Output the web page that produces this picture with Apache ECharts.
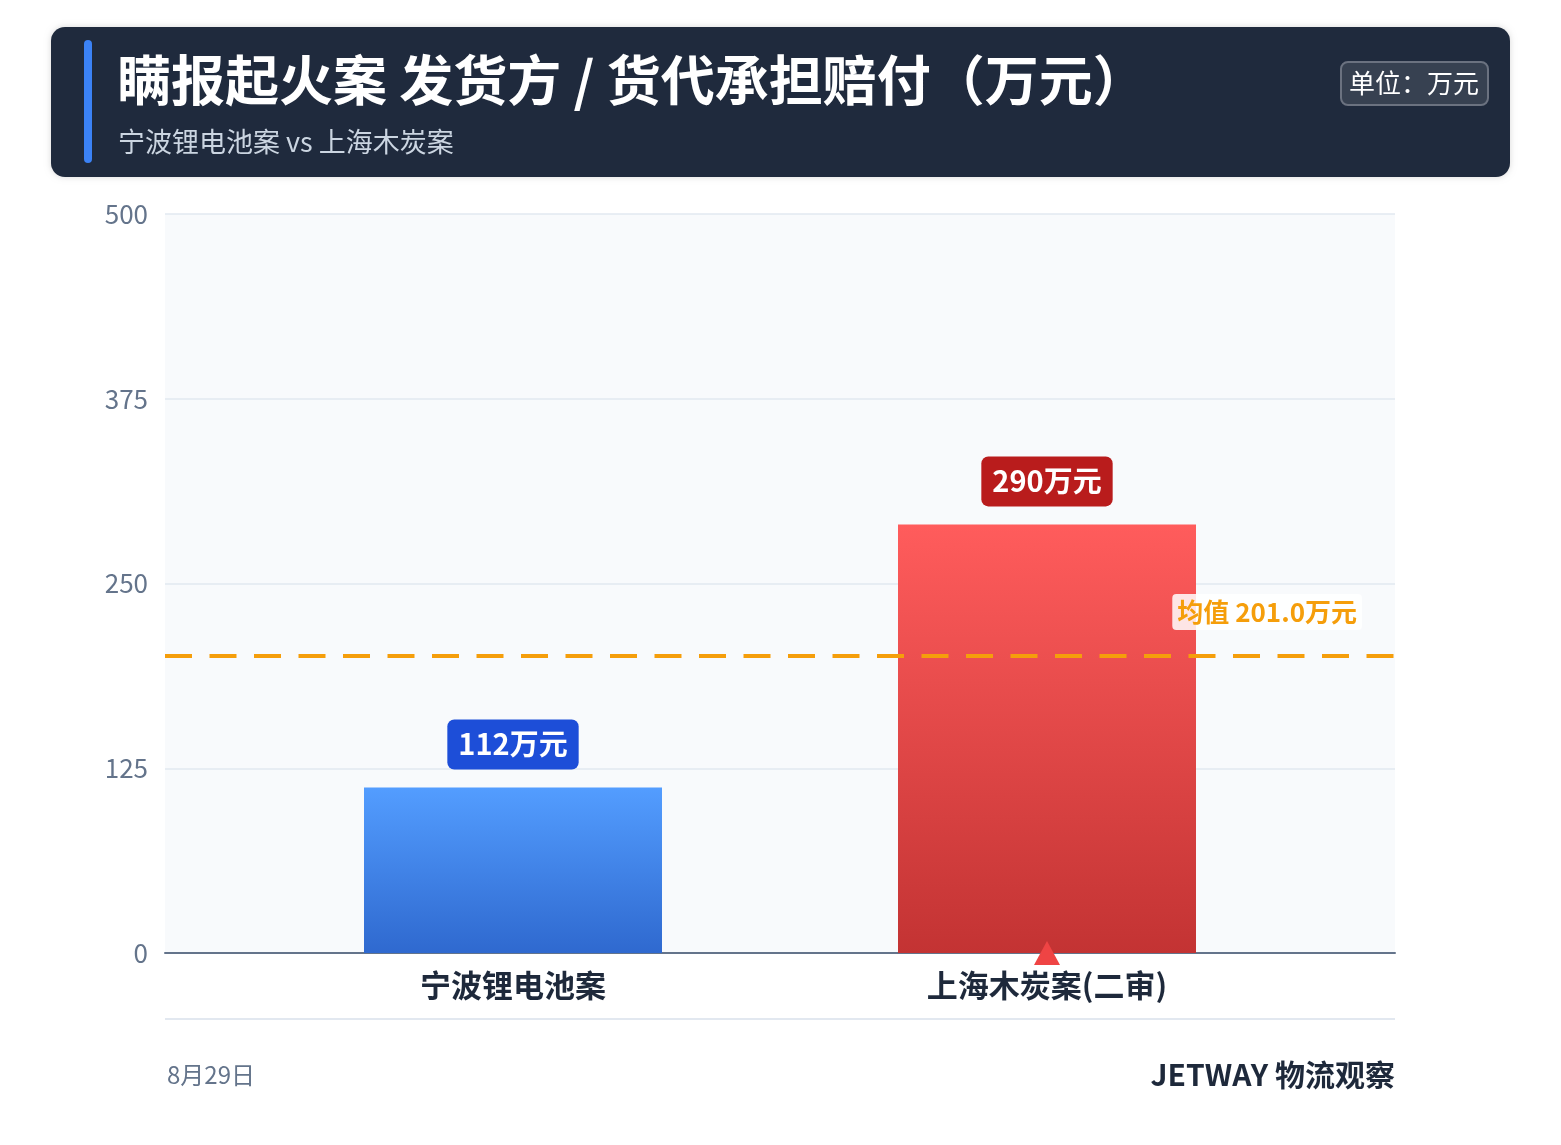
<!DOCTYPE html>
<html><head><meta charset="utf-8">
<script src="https://cdn.jsdelivr.net/npm/echarts@6/dist/echarts.min.js"></script>
<style>html,body{margin:0;padding:0;background:#fff}#c{width:1561px;height:1145px}</style>
</head><body><div id="c"></div>
<script>
const categories = ['宁波锂电池案', '上海木炭案(二审)'];
const values = [112, 290];
const meanValue = 201.0;
const yTicks = { min: 0, max: 500, interval: 125 };
const titleText = '瞒报起火案 发货方 / 货代承担赔付（万元）';
const subtitleText = '宁波锂电池案 vs 上海木炭案';
const unitText = '单位：万元';
const dateText = '8月29日';
const brandText = 'JETWAY 物流观察';

const FONT = '"Noto Sans CJK SC", "Noto Sans", sans-serif';
const chart = echarts.init(document.getElementById('c'));
const barColors = [
  { top: '#539dff', bottom: '#2f69cf', badge: '#1d4ed8' },
  { top: '#ff5c5c', bottom: '#c33333', badge: '#b91c1c' }
];
chart.setOption({
  animation: false,
  textStyle: { fontFamily: FONT },
  grid: [
    { left: 165, right: 166, top: 214, bottom: 192, show: true, backgroundColor: '#f8fafc', borderWidth: 0 },
    { left: 246, right: 247, top: 214, bottom: 192 }
  ],
  xAxis: [
    {
      gridIndex: 0, type: 'category', data: categories,
      axisLine: { lineStyle: { color: '#64748b', width: 2 } },
      axisTick: { show: false }, axisLabel: { show: false }
    },
    {
      gridIndex: 1, type: 'category', data: categories,
      axisLine: { show: false }, axisTick: { show: false },
      axisLabel: { fontSize: 31, fontWeight: 'bold', color: '#1e293b', margin: 17, fontFamily: FONT }
    }
  ],
  yAxis: [
    {
      gridIndex: 0, type: 'value', min: yTicks.min, max: yTicks.max, interval: yTicks.interval,
      axisLine: { show: false }, axisTick: { show: false },
      axisLabel: { fontSize: 26, color: '#64748b', margin: 17, fontFamily: FONT },
      splitLine: { lineStyle: { color: '#e2e8f0', width: 1.5 } }
    },
    {
      gridIndex: 1, type: 'value', min: yTicks.min, max: yTicks.max, interval: yTicks.interval,
      show: false
    }
  ],
  graphic: [
    { type: 'rect', shape: { x: 51, y: 27, width: 1459, height: 150, r: 14 }, style: { fill: '#1f2a3d', shadowBlur: 6, shadowColor: 'rgba(0,0,0,0.15)' }, z: 10 },
    { type: 'rect', shape: { x: 84, y: 40, width: 8, height: 123, r: 4 }, style: { fill: '#3b82f6' }, z: 11 },
    { type: 'text', x: 117, y: 80, style: { text: titleText, fill: '#ffffff', font: 'bold 54px ' + FONT, verticalAlign: 'middle' }, z: 11 },
    { type: 'text', x: 118, y: 142, style: { text: subtitleText, fill: '#cbd5e1', font: '27px ' + FONT, verticalAlign: 'middle' }, z: 11 },
    { type: 'rect', shape: { x: 1341, y: 62, width: 147, height: 43, r: 7 }, style: { fill: '#374151', stroke: '#6b7280', lineWidth: 2 }, z: 11 },
    { type: 'text', x: 1414, y: 83, style: { text: unitText, fill: '#ffffff', font: '26px ' + FONT, align: 'center', verticalAlign: 'middle' }, z: 12 },
    { type: 'line', shape: { x1: 165, y1: 1019, x2: 1395, y2: 1019 }, style: { stroke: '#e2e8f0', lineWidth: 2 } },
    { type: 'text', x: 167, y: 1075, style: { text: dateText, fill: '#64748b', font: '24px ' + FONT, verticalAlign: 'middle' } },
    { type: 'text', x: 1395, y: 1075, style: { text: brandText, fill: '#1e293b', font: 'bold 30px ' + FONT, align: 'right', verticalAlign: 'middle' } }
  ],
  series: [
    {
      type: 'line', xAxisIndex: 0, yAxisIndex: 0, data: [], silent: true,
      markLine: {
        silent: true, symbol: 'none',
        data: [{ yAxis: meanValue }],
        lineStyle: { color: '#f59e0b', type: [27, 17.5], width: 4 },
        label: {
          position: 'insideEndTop', formatter: '均值 ' + meanValue.toFixed(1) + '万元',
          color: '#f59e0b', fontSize: 26, fontWeight: 'bold', fontFamily: FONT,
          backgroundColor: 'rgba(255,255,255,0.85)', padding: [5, 5], borderRadius: 4,
          distance: [33, 26]
        }
      }
    },
    {
      type: 'bar', xAxisIndex: 1, yAxisIndex: 1,
      barWidth: 298, z: 3,
      data: values.map((v, i) => ({
        value: v,
        itemStyle: { color: new echarts.graphic.LinearGradient(0, 0, 0, 1, [{ offset: 0, color: barColors[i].top }, { offset: 1, color: barColors[i].bottom }]) },
        label: { backgroundColor: barColors[i].badge }
      })),
      label: {
        show: true, position: 'top', distance: 18,
        formatter: p => p.value + '万元',
        color: '#fff', fontSize: 29, fontWeight: 'bold', fontFamily: FONT,
        lineHeight: 30, padding: [10, 11], borderRadius: 7
      },
      markPoint: {
        symbol: 'triangle', symbolSize: [26, 24],
        itemStyle: { color: '#ef4444' },
        label: { show: false },
        data: [{ coord: [categories[1], 0] }]
      }
    }
  ]
});
</script></body></html>
